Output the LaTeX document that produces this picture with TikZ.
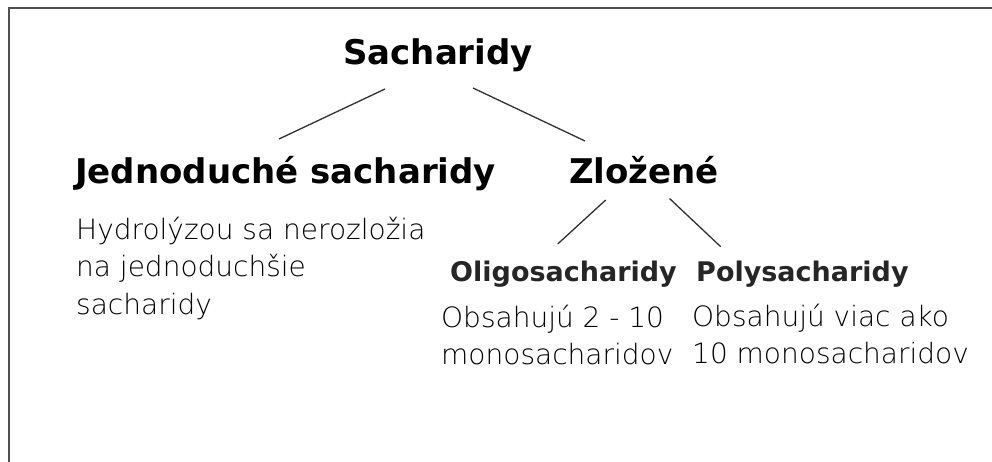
\documentclass[tikz,border=0pt]{standalone}
\usepackage{fontspec}
\setmainfont{DejaVu Sans}
\newfontfamily\bodyfont{DejaVu Sans ExtraLight}
\definecolor{framegray}{RGB}{80,80,80}
\definecolor{linegray}{RGB}{50,50,50}
\begin{document}
\begin{tikzpicture}[x=1pt,y=-1pt,
  head/.style={anchor=base west, inner sep=0pt, font=\fontsize{34}{40}\selectfont\bfseries},
  sub/.style={anchor=base west, inner sep=0pt, font=\fontsize{27}{32}\selectfont\bfseries, text=black!85},
  body/.style={anchor=base west, inner sep=0pt, font=\bodyfont\fontsize{28}{37}\selectfont},
  conn/.style={line width=1.3pt, draw=linegray},
  frame/.style={line width=2.5pt, draw=framegray}]
\useasboundingbox (0,0) rectangle (992,462);
\fill[white] (0,0) rectangle (992,462);
\draw[frame] (9,470) -- (9,8) -- (1000,8);

\node[head] (sach) at (343,65) {Sacharidy};
\node[head] (jedn) at (75,184) {Jednoduché sacharidy};
\node[head] (zloz) at (569,184) {Zložené};
\node[sub] (oligo) at (450,281.7) {Oligosacharidy};
\node[sub] (poly) at (696,281) {Polysacharidy};

\node[body] (jtxt) at (76,240) {\begin{tabular}[t]{@{}l@{}}Hydrolýzou sa nerozložia\\na jednoduchšie\\sacharidy\end{tabular}};
\node[body] (otxt) at (441,327) {\begin{tabular}[t]{@{}l@{}}Obsahujú 2 - 10\\monosacharidov\end{tabular}};
\node[body] (ptxt) at (692,326) {\begin{tabular}[t]{@{}l@{}}Obsahujú viac ako\\10 monosacharidov\end{tabular}};

\draw[conn] ([shift={(42,24)}]sach.base west) -- ([shift={(204,-45)}]jedn.base west);
\draw[conn] ([shift={(130,23)}]sach.base west) -- ([shift={(16,-43)}]zloz.base west);
\draw[conn] ([shift={(36.7,16)}]zloz.base west) -- ([shift={(107.7,-37.7)}]oligo.base west);
\draw[conn] ([shift={(100.5,14.5)}]zloz.base west) -- ([shift={(24.7,-34.3)}]poly.base west);
\end{tikzpicture}
\end{document}
